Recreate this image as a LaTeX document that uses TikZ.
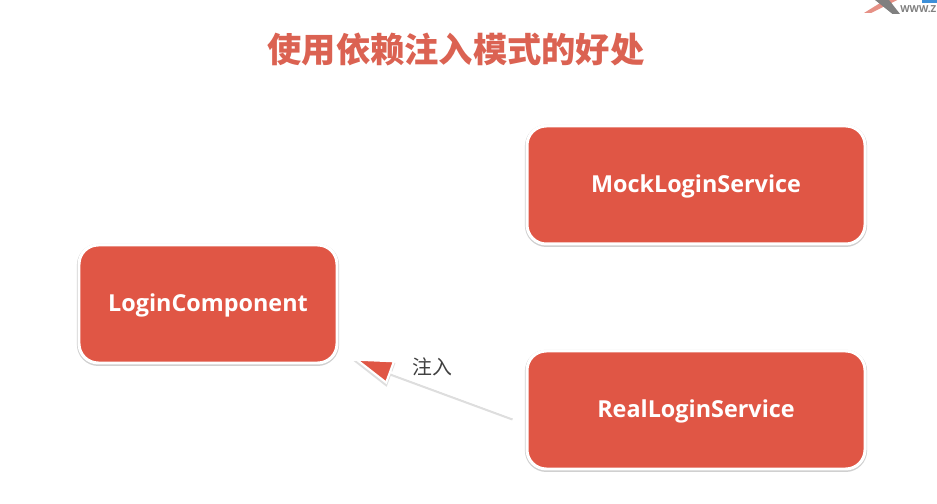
\documentclass[tikz,border=0pt]{standalone}
\usepackage{fontspec}
\setmainfont{Open Sans}
\newfontfamily\cjkfont{Noto Sans CJK SC}
\usetikzlibrary{arrows.meta,shadows}
\definecolor{boxred}{HTML}{E05645}
\definecolor{titlered}{HTML}{DB6252}
\definecolor{logoblue}{HTML}{3C8FD8}
\begin{document}
\begin{tikzpicture}[
        box/.style={draw=white,line width=1.7pt,fill=boxred,rounded corners=11pt,
            minimum height=2.36cm,text=white,text depth=1.8pt,
            font=\bfseries\fontsize{13.3}{15}\selectfont,
            drop shadow={shadow xshift=0pt,shadow yshift=-0.5pt,opacity=0.3,
                fill=black!60,draw=black!60,line width=2.4pt}},
        inject/.style={-{Triangle[length=0.8cm,width=0.5cm,fill=#1,line width=1.2pt]},line width=1.2pt}]
\useasboundingbox[fill=white] (0,0) rectangle (18.74,10.08);

% corner logo
\fill[titlered!70] (17.28,9.82) -- (17.7,10.08) -- (17.95,10.08) -- (17.42,9.82) -- cycle;
\fill[gray] (17.5,10.08) -- (17.78,10.08) -- (18.0,9.8) -- (17.85,9.8) -- cycle;
\fill[logoblue] (18.44,10.02) -- (18.74,10.02) -- (18.74,10.08) -- (18.44,10.08) -- cycle;
\node[text=gray,font=\bfseries\fontsize{5.5}{6}\selectfont,anchor=west,inner sep=0pt] (logotext) at (18.0,9.9) {WWW.Z};

\node[text=titlered,font=\cjkfont\bfseries\fontsize{19.5}{22}\selectfont] (title) at (9.12,9.08) {使用依赖注入模式的好处};

\node[box,minimum width=5.16cm] (login) at (4.16,4.0) {LoginComponent};
\node[box,minimum width=6.76cm] (mock) at (13.92,6.38) {MockLoginService};
\node[box,minimum width=6.76cm] (real) at (13.92,1.88) {RealLoginService};

\coordinate (tail) at ([xshift=-0.26cm,yshift=-0.14cm]real.west);
\coordinate (tip) at ([xshift=0.3cm,yshift=0.12cm]login.south east);

% soft edge under the arrow
\draw[black!13,inject=black!13] ([yshift=-0.05cm]tail) -- ([yshift=-0.05cm]tip);
\draw[white,inject=boxred] (tail) -- (tip);
\node[text=black!75,font=\cjkfont\fontsize{11.3}{13}\selectfont] (label) at (8.64,2.74) {注入};

\end{tikzpicture}
\end{document}
